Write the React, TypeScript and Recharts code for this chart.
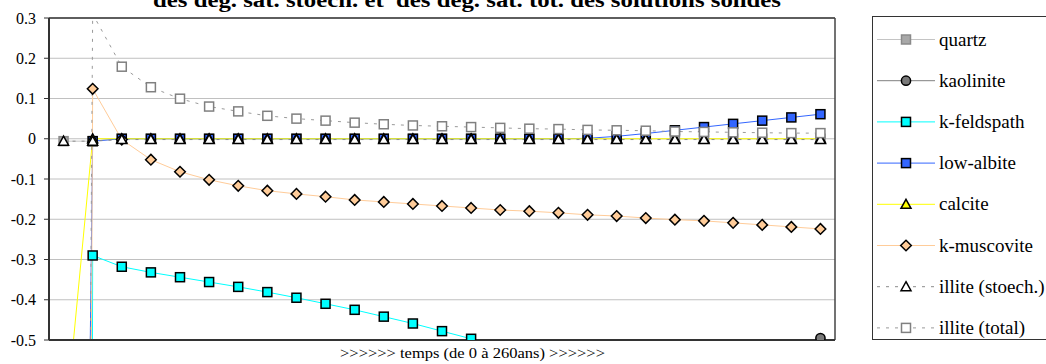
import React from 'react';
import { LineChart, Line, XAxis, YAxis, CartesianGrid, ReferenceLine } from 'recharts';

const SERIF = '"Liberation Serif", "Times New Roman", serif';

const times = [0, 10, 20, 30, 40, 50, 60, 70, 80, 90, 100, 110, 120, 130, 140, 150, 160, 170, 180, 190, 200, 210, 220, 230, 240, 250, 260];

const quartz = [-0.006, -0.006, 0, 0, 0, 0, 0, 0, 0, 0, 0, 0, 0, 0, 0, 0, 0, 0, 0, 0, 0, 0, 0, 0, 0, 0, 0];
const kaolinite = [-12, -3.2, -2.6, -2.3, -2.05, -1.85, -1.7, -1.57, -1.46, -1.36, -1.27, -1.19, -1.12, -1.05, -0.99, -0.93, -0.88, -0.83, -0.78, -0.74, -0.7, -0.66, -0.62, -0.59, -0.555, -0.52, -0.495];
const kFeldspath = [-30, -0.29, -0.318, -0.332, -0.344, -0.356, -0.368, -0.381, -0.395, -0.41, -0.425, -0.442, -0.459, -0.478, -0.497, -0.52, -0.545, -0.57, -0.6, -0.63, -0.66, -0.69, -0.72, -0.76, -0.8, -0.84, -0.88];
const lowAlbite = [-6, -0.006, 0, 0, 0, 0, 0, 0, 0, 0, 0, 0, 0, 0, 0, 0, 0, 0, 0.001, 0.006, 0.013, 0.021, 0.029, 0.037, 0.045, 0.053, 0.061];
const calcite = [-0.76, 0, 0, 0, 0, 0, 0, 0, 0, 0, 0, 0, 0, 0, 0, 0, 0, 0, 0, 0, 0, 0, 0, 0, 0, 0, 0];
const kMuscovite = [-15, 0.124, -0.002, -0.052, -0.082, -0.102, -0.117, -0.129, -0.137, -0.144, -0.152, -0.157, -0.162, -0.167, -0.172, -0.177, -0.18, -0.184, -0.189, -0.192, -0.197, -0.201, -0.204, -0.209, -0.214, -0.219, -0.224];
const illiteStoech = [-0.006, -0.006, -0.002, -0.002, -0.002, -0.002, -0.002, -0.002, -0.002, -0.002, -0.002, -0.002, -0.002, -0.002, -0.002, -0.002, -0.002, -0.002, -0.002, -0.002, -0.002, -0.002, -0.002, -0.002, -0.002, -0.002, -0.002];
const illiteTotal = [-10, 0.31, 0.179, 0.128, 0.0995, 0.08, 0.068, 0.057, 0.05, 0.045, 0.04, 0.036, 0.033, 0.031, 0.029, 0.027, 0.025, 0.024, 0.022, 0.021, 0.02, 0.018, 0.017, 0.016, 0.015, 0.014, 0.014];

const yTicks = [0.3, 0.2, 0.1, 0, -0.1, -0.2, -0.3, -0.4, -0.5];
const titleText = 'des deg. sat. stoech. et  des deg. sat. tot. des solutions solides';
const xAxisLabel = '>>>>>> temps (de 0 à 260ans) >>>>>>';

type Shape = 'square' | 'circle' | 'triangle' | 'diamond';
interface SeriesDef {
  key: string;
  name: string;
  values: number[];
  color: string;
  dash?: string;
  shape: Shape;
  fill: string;
  stroke: string;
}

const series: SeriesDef[] = [
  { key: 'quartz', name: 'quartz', values: quartz, color: '#c4c4c4', shape: 'square', fill: '#a8a8a8', stroke: '#8a8a8a' },
  { key: 'kaolinite', name: 'kaolinite', values: kaolinite, color: '#808080', shape: 'circle', fill: '#7a7a7a', stroke: '#000000' },
  { key: 'kFeldspath', name: 'k-feldspath', values: kFeldspath, color: '#00ffff', shape: 'square', fill: '#00ffff', stroke: '#000000' },
  { key: 'lowAlbite', name: 'low-albite', values: lowAlbite, color: '#3366ff', shape: 'square', fill: '#3366ff', stroke: '#000000' },
  { key: 'calcite', name: 'calcite', values: calcite, color: '#ffff00', shape: 'triangle', fill: '#ffff00', stroke: '#000000' },
  { key: 'kMuscovite', name: 'k-muscovite', values: kMuscovite, color: '#ffcc99', shape: 'diamond', fill: '#ffcc99', stroke: '#000000' },
  { key: 'illiteStoech', name: 'illite (stoech.)', values: illiteStoech, color: '#8c8c8c', dash: '3 6', shape: 'triangle', fill: '#ffffff', stroke: '#000000' },
  { key: 'illiteTotal', name: 'illite (total)', values: illiteTotal, color: '#9a9a9a', dash: '3 6', shape: 'square', fill: '#ffffff', stroke: '#808080' },
];

const data = times.map((t, i) => {
  const row: Record<string, number> = { t };
  series.forEach((s) => {
    row[s.key] = s.values[i];
  });
  return row;
});

function Marker({ shape, x, y, fill, stroke }: { shape: Shape; x: number; y: number; fill: string; stroke: string }) {
  const sw = 1.5;
  if (shape === 'square') {
    return <rect x={x - 4.5} y={y - 4.5} width={9} height={9} fill={fill} stroke={stroke} strokeWidth={sw} />;
  }
  if (shape === 'circle') {
    return <circle cx={x} cy={y} r={4.6} fill={fill} stroke={stroke} strokeWidth={sw} />;
  }
  if (shape === 'triangle') {
    return (
      <polygon
        points={`${x},${y - 5} ${x + 5},${y + 4} ${x - 5},${y + 4}`}
        fill={fill}
        stroke={stroke}
        strokeWidth={sw}
        strokeLinejoin="miter"
      />
    );
  }
  return (
    <polygon
      points={`${x},${y - 5.3} ${x + 5.3},${y} ${x},${y + 5.3} ${x - 5.3},${y}`}
      fill={fill}
      stroke={stroke}
      strokeWidth={sw}
    />
  );
}

const makeDot = (s: SeriesDef) => (props: any) => {
  const { cx, cy, index, value } = props;
  const k = `${s.key}-dot-${index}`;
  const v = Array.isArray(value) ? value[1] : value;
  if (cx == null || cy == null || v == null || v > 0.3 || v < -0.5) return <g key={k} />;
  return (
    <g key={k}>
      <Marker shape={s.shape} x={cx} y={cy} fill={s.fill} stroke={s.stroke} />
    </g>
  );
};

const fmt = (v: number) => String(Math.round(v * 10) / 10);

export default function App() {
  const legendTop = 39.5;
  const legendStep = 41.2;
  return (
    <div style={{ position: 'absolute', left: 0, top: 0, width: 1046, height: 364, background: '#ffffff', overflow: 'hidden' }}>
      <LineChart width={1046} height={364} data={data} margin={{ top: 18, right: 211, bottom: 24, left: 0 }}>
        <CartesianGrid horizontal vertical={false} stroke="#c0c0c0" strokeWidth={1} />
        <XAxis type="number" dataKey="t" domain={[-5, 265]} hide allowDataOverflow />
        <YAxis
          type="number"
          domain={[-0.5, 0.3]}
          ticks={yTicks}
          interval={0}
          allowDataOverflow
          width={49}
          tickSize={5}
          tickMargin={8}
          axisLine={{ stroke: '#333333', strokeWidth: 2 }}
          tickLine={{ stroke: '#333333', strokeWidth: 1 }}
          tick={{ fill: '#000000', fontSize: 16, fontFamily: SERIF }}
          tickFormatter={fmt}
        />
        <ReferenceLine y={0.3} stroke="#333333" strokeWidth={1.5} />
        <ReferenceLine x={265} stroke="#444444" strokeWidth={1.5} />
        {series.map((s) => (
          <Line
            key={s.key}
            type="linear"
            dataKey={s.key}
            name={s.name}
            stroke={s.color}
            strokeWidth={1}
            strokeDasharray={s.dash}
            dot={makeDot(s)}
            activeDot={false}
            isAnimationActive={false}
          />
        ))}
        <ReferenceLine y={-0.5} stroke="#333333" strokeWidth={2} />
      </LineChart>
      <svg width={1046} height={364} style={{ position: 'absolute', left: 0, top: 0, pointerEvents: 'none' }}>
        <text
          x={153}
          y={7}
          fontFamily={SERIF}
          fontWeight="bold"
          fontSize={20}
          textLength={628}
          lengthAdjust="spacingAndGlyphs"
          fill="#000000"
          style={{ whiteSpace: 'pre' }}
        >
          {titleText}
        </text>
        <text
          x={340}
          y={358}
          fontFamily={SERIF}
          fontSize={15}
          textLength={265}
          lengthAdjust="spacingAndGlyphs"
          fill="#000000"
        >
          {xAxisLabel}
        </text>
        <rect x={872.5} y={16.5} width={190} height={323} fill="#ffffff" stroke="#333333" strokeWidth={1} />
        {series.map((s, i) => {
          const y = legendTop + legendStep * i;
          return (
            <g key={`leg-${s.key}`}>
              <line x1={877} x2={935} y1={y} y2={y} stroke={s.color} strokeWidth={1} strokeDasharray={s.dash} />
              <Marker shape={s.shape} x={906} y={y} fill={s.fill} stroke={s.stroke} />
              <text x={939} y={y + 6} fontFamily={SERIF} fontSize={19} fill="#000000">
                {s.name}
              </text>
            </g>
          );
        })}
      </svg>
    </div>
  );
}
